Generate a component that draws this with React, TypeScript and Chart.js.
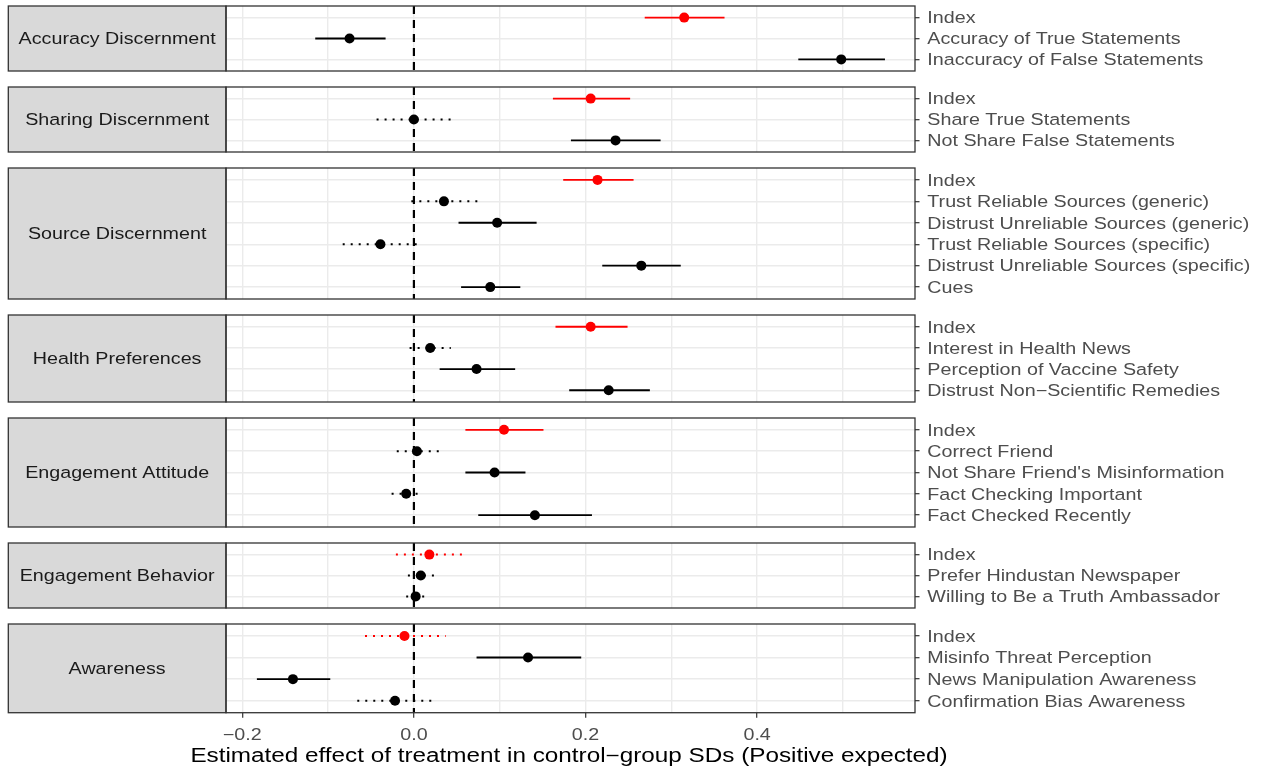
import React, { useEffect, useRef } from 'react';
import { Chart, registerables } from 'chart.js';

Chart.register(...registerables);

// ---------------- data ----------------
const panelTitles = [
  'Accuracy Discernment',
  'Sharing Discernment',
  'Source Discernment',
  'Health Preferences',
  'Engagement Attitude',
  'Engagement Behavior',
  'Awareness',
];

const rowLabels = [
  ['Index', 'Accuracy of True Statements', 'Inaccuracy of False Statements'],
  ['Index', 'Share True Statements', 'Not Share False Statements'],
  [
    'Index',
    'Trust Reliable Sources (generic)',
    'Distrust Unreliable Sources (generic)',
    'Trust Reliable Sources (specific)',
    'Distrust Unreliable Sources (specific)',
    'Cues',
  ],
  ['Index', 'Interest in Health News', 'Perception of Vaccine Safety', 'Distrust Non\u2212Scientific Remedies'],
  ['Index', 'Correct Friend', "Not Share Friend's Misinformation", 'Fact Checking Important', 'Fact Checked Recently'],
  ['Index', 'Prefer Hindustan Newspaper', 'Willing to Be a Truth Ambassador'],
  ['Index', 'Misinfo Threat Perception', 'News Manipulation Awareness', 'Confirmation Bias Awareness'],
];

const estimates = [
  [0.315, -0.075, 0.498],
  [0.206, 0.0, 0.235],
  [0.214, 0.035, 0.097, -0.039, 0.265, 0.089],
  [0.206, 0.019, 0.073, 0.227],
  [0.105, 0.0035, 0.094, -0.009, 0.141],
  [0.018, 0.008, 0.002],
  [-0.011, 0.133, -0.141, -0.022],
];

const lowerCI = [
  [0.269, -0.115, 0.448],
  [0.162, -0.0435, 0.183],
  [0.174, -0.003, 0.052, -0.083, 0.2195, 0.055],
  [0.165, -0.005, 0.030, 0.181],
  [0.060, -0.020, 0.060, -0.026, 0.075],
  [-0.021, -0.007, -0.009],
  [-0.057, 0.073, -0.183, -0.066],
];

const upperCI = [
  [0.362, -0.033, 0.549],
  [0.252, 0.046, 0.2875],
  [0.256, 0.074, 0.143, 0.005, 0.311, 0.124],
  [0.249, 0.043, 0.118, 0.275],
  [0.151, 0.029, 0.130, 0.008, 0.2075],
  [0.059, 0.024, 0.015],
  [0.037, 0.195, -0.0975, 0.023],
];

const xTickValues = [-0.2, 0, 0.2, 0.4];
const xTickLabels = ['\u22120.2', '0.0', '0.2', '0.4'];
const xAxisTitle = 'Estimated effect of treatment in control\u2212group SDs (Positive expected)';

// ---------------- layout / style ----------------
const W = 1262;
const H = 774;
const X_MIN = -0.219;
const X_MAX = 0.584;
const ROW = 21.86;
const PAD = 0.555;
const GAP = 13.25;
const TOP0 = 4.3;
const PLOT_LEFT = 226;
const PLOT_RIGHT = 915;
const STRIP_LEFT = 8.3;
const FONT = '"Liberation Sans", Arial, Helvetica, sans-serif';
const TEXT_SIZE = 16.3;
const SX = 1.21;
const CAP = 0.716 * TEXT_SIZE;
const RED = '#FF0000';
const BLACK = '#000000';
const GRID = '#EBEBEB';
const AXIS = '#333333';

const panelTops: number[] = [];
const panelHeights: number[] = [];
{
  let t = TOP0;
  rowLabels.forEach((l) => {
    const h = (l.length - 1 + 2 * PAD) * ROW;
    panelTops.push(t);
    panelHeights.push(h);
    t += h + GAP;
  });
}

function drawStretched(
  ctx: CanvasRenderingContext2D,
  text: string,
  x: number,
  y: number,
  align: 'left' | 'center' | 'right',
  size: number,
  color: string,
  sx: number
) {
  ctx.save();
  ctx.font = `${size}px ${FONT}`;
  ctx.fillStyle = color;
  ctx.textBaseline = 'alphabetic';
  ctx.textAlign = 'left';
  const w = ctx.measureText(text).width * sx;
  const left = align === 'center' ? x - w / 2 : align === 'right' ? x - w : x;
  ctx.translate(left, y);
  ctx.scale(sx, 1);
  ctx.fillText(text, 0, 0);
  ctx.restore();
}

const isMajor = (v: number) => Math.abs(Math.round(v * 10)) % 2 === 0;

function Panel({ idx }: { idx: number }) {
  const ref = useRef<HTMLCanvasElement>(null);
  const top = panelTops[idx];
  const height = panelHeights[idx];
  const last = idx === rowLabels.length - 1;
  const canvasTop = Math.floor(top) - 3;
  const canvasBottom = last ? H : Math.ceil(top + height) + 3;
  const canvasH = canvasBottom - canvasTop;

  useEffect(() => {
    const labels = rowLabels[idx];
    const n = labels.length;
    const yMin = -PAD;
    const yMax = n - 1 + PAD;
    const colorOf = (r: number) => (labels[r] === 'Index' ? RED : BLACK);

    const datasets: any[] = [];
    datasets.push({
      type: 'scatter',
      data: estimates[idx].map((v, r) => ({ x: v, y: r })),
      pointRadius: 5,
      pointHoverRadius: 5,
      pointBackgroundColor: labels.map((_, r) => colorOf(r)),
      pointBorderWidth: 0,
      order: 0,
    });
    labels.forEach((_, r) => {
      const lo = lowerCI[idx][r];
      const hi = upperCI[idx][r];
      const dotted = lo < 0 && hi > 0;
      datasets.push({
        type: 'line',
        data: [
          { x: lo, y: r },
          { x: hi, y: r },
        ],
        borderColor: colorOf(r),
        borderWidth: dotted ? 2 : 1.9,
        borderDash: dotted ? [2, 6] : [],
        borderCapStyle: 'butt',
        pointRadius: 0,
        pointHoverRadius: 0,
        fill: false,
        order: 1,
      });
    });
    datasets.push({
      type: 'line',
      data: [
        { x: 0, y: yMin },
        { x: 0, y: yMax },
      ],
      borderColor: BLACK,
      borderWidth: 2.2,
      borderDash: [8, 6],
      borderCapStyle: 'butt',
      pointRadius: 0,
      pointHoverRadius: 0,
      fill: false,
      order: 2,
    });

    const framePlugin = {
      id: 'frame' + idx,
      afterDraw(chart: any) {
        const { ctx, chartArea: ca, scales } = chart;
        ctx.save();
        // strip
        ctx.fillStyle = '#D9D9D9';
        ctx.fillRect(STRIP_LEFT, ca.top, ca.left - STRIP_LEFT, ca.bottom - ca.top);
        ctx.strokeStyle = AXIS;
        ctx.lineWidth = 1.3;
        ctx.strokeRect(STRIP_LEFT, ca.top, ca.left - STRIP_LEFT, ca.bottom - ca.top);
        ctx.strokeRect(ca.left, ca.top, ca.right - ca.left, ca.bottom - ca.top);
        ctx.restore();
        drawStretched(
          ctx,
          panelTitles[idx],
          (STRIP_LEFT + ca.left) / 2,
          (ca.top + ca.bottom) / 2 + CAP / 2,
          'center',
          TEXT_SIZE,
          '#1A1A1A',
          SX
        );
        labels.forEach((lab, r) => {
          drawStretched(ctx, lab, ca.right + 12.3, scales.y.getPixelForValue(r) + CAP / 2, 'left', TEXT_SIZE, '#4D4D4D', SX);
        });
        if (last) {
          xTickValues.forEach((v, i) => {
            drawStretched(ctx, xTickLabels[i], scales.x.getPixelForValue(v), ca.bottom + 27, 'center', TEXT_SIZE, '#4D4D4D', SX);
          });
          drawStretched(ctx, xAxisTitle, (ca.left + ca.right) / 2 - 1.5, ca.bottom + 48.8, 'center', 19.5, '#000000', 1.245);
        }
      },
    };

    const chart = new Chart(ref.current as HTMLCanvasElement, {
      type: 'scatter',
      data: { datasets },
      options: {
        responsive: false,
        animation: false,
        events: [],
        layout: {
          padding: {
            left: PLOT_LEFT,
            right: 0,
            top: top - canvasTop,
            bottom: last ? 0 : canvasBottom - (top + height),
          },
        },
        plugins: { legend: { display: false }, tooltip: { enabled: false } },
        scales: {
          x: {
            type: 'linear',
            position: 'bottom',
            min: X_MIN,
            max: X_MAX,
            ticks: { display: false, stepSize: 0.1, includeBounds: false },
            grid: {
              color: GRID,
              lineWidth: 1.4,
              drawTicks: last,
              tickLength: 5,
              tickWidth: 1.2,
              tickColor: (c: any) => (c.tick && isMajor(c.tick.value) ? AXIS : 'rgba(0,0,0,0)'),
            },
            border: { display: false },
            afterFit: (s: any) => {
              s.height = last ? H - (top + height) : 0;
            },
          },
          y: {
            type: 'linear',
            position: 'right',
            min: yMin,
            max: yMax,
            reverse: true,
            ticks: { display: false, stepSize: 1, includeBounds: false },
            grid: { color: GRID, lineWidth: 1.4, drawTicks: true, tickLength: 4.5, tickWidth: 1.2, tickColor: AXIS },
            border: { display: false },
            afterFit: (s: any) => {
              s.width = W - PLOT_RIGHT;
            },
          },
        },
      } as any,
      plugins: [framePlugin],
    });
    return () => chart.destroy();
  }, []);

  return (
    <canvas
      ref={ref}
      width={W}
      height={canvasH}
      style={{ position: 'absolute', left: 0, top: canvasTop, width: W, height: canvasH }}
    />
  );
}

export default function App() {
  return (
    <div style={{ position: 'fixed', left: 0, top: 0, width: W, height: H, background: '#FFFFFF', overflow: 'hidden' }}>
      {rowLabels.map((_, i) => (
        <Panel key={i} idx={i} />
      ))}
    </div>
  );
}
